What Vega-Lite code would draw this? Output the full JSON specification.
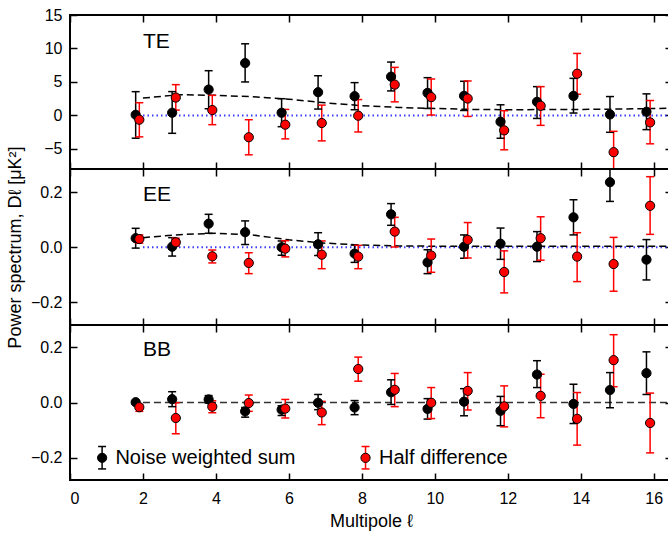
{
  "$schema": "https://vega.github.io/schema/vega-lite/v6.json",
  "padding": {"left": 5, "top": 6, "right": 0, "bottom": 3},
  "spacing": 0,
  "bounds": "flush",
  "config": {
    "font": "Liberation Sans",
    "view": {"stroke": "black", "strokeWidth": 2},
    "axis": {"tickSize": -7, "tickColor": "black", "tickWidth": 1.5, "domain": false, "grid": false, "labelFontSize": 16, "labelColor": "black", "titleFontSize": 18, "titleFontWeight": "normal", "titleColor": "black"}
  },
  "datasets": {
    "te": [
      {"s": "Noise weighted sum", "x": 1.8, "v": 0.1, "lo": -3.4, "hi": 3.55},
      {"s": "Noise weighted sum", "x": 2.8, "v": 0.4, "lo": -2.67, "hi": 3.56},
      {"s": "Noise weighted sum", "x": 3.8, "v": 3.86, "lo": 1.0, "hi": 6.68},
      {"s": "Noise weighted sum", "x": 4.8, "v": 7.82, "lo": 5.0, "hi": 10.7},
      {"s": "Noise weighted sum", "x": 5.8, "v": 0.4, "lo": -1.68, "hi": 2.5},
      {"s": "Noise weighted sum", "x": 6.8, "v": 3.47, "lo": 0.95, "hi": 5.93},
      {"s": "Noise weighted sum", "x": 7.8, "v": 2.87, "lo": 0.85, "hi": 4.9},
      {"s": "Noise weighted sum", "x": 8.8, "v": 5.79, "lo": 3.66, "hi": 7.97},
      {"s": "Noise weighted sum", "x": 9.8, "v": 3.37, "lo": 1.04, "hi": 5.64},
      {"s": "Noise weighted sum", "x": 10.8, "v": 2.92, "lo": 0.74, "hi": 5.1},
      {"s": "Noise weighted sum", "x": 11.8, "v": -0.93, "lo": -3.41, "hi": 1.59},
      {"s": "Noise weighted sum", "x": 12.8, "v": 2.03, "lo": -0.45, "hi": 4.3},
      {"s": "Noise weighted sum", "x": 13.8, "v": 2.92, "lo": 0.36, "hi": 5.54},
      {"s": "Noise weighted sum", "x": 14.8, "v": 0.15, "lo": -2.52, "hi": 2.82},
      {"s": "Noise weighted sum", "x": 15.8, "v": 0.55, "lo": -2.12, "hi": 3.22},
      {"s": "Half difference", "x": 1.9, "v": -0.64, "lo": -3.2, "hi": 1.9},
      {"s": "Half difference", "x": 2.9, "v": 2.67, "lo": 0.8, "hi": 4.6},
      {"s": "Half difference", "x": 3.9, "v": 0.8, "lo": -1.38, "hi": 3.0},
      {"s": "Half difference", "x": 4.9, "v": -3.26, "lo": -5.88, "hi": -0.64},
      {"s": "Half difference", "x": 5.9, "v": -1.38, "lo": -3.5, "hi": 0.9},
      {"s": "Half difference", "x": 6.9, "v": -1.13, "lo": -3.8, "hi": 1.54},
      {"s": "Half difference", "x": 7.9, "v": -0.04, "lo": -2.47, "hi": 2.37},
      {"s": "Half difference", "x": 8.9, "v": 4.6, "lo": 2.03, "hi": 7.18},
      {"s": "Half difference", "x": 9.9, "v": 2.73, "lo": 0.06, "hi": 5.44},
      {"s": "Half difference", "x": 10.9, "v": 2.52, "lo": -0.15, "hi": 5.15},
      {"s": "Half difference", "x": 11.9, "v": -2.23, "lo": -5.13, "hi": 0.7},
      {"s": "Half difference", "x": 12.9, "v": 1.44, "lo": -1.48, "hi": 4.3},
      {"s": "Half difference", "x": 13.9, "v": 6.23, "lo": 3.17, "hi": 9.26},
      {"s": "Half difference", "x": 14.9, "v": -5.49, "lo": -8.6, "hi": -2.37},
      {"s": "Half difference", "x": 15.9, "v": -1.04, "lo": -4.24, "hi": 2.23}
    ],
    "ee": [
      {"s": "Noise weighted sum", "x": 1.8, "v": 0.033, "lo": -0.003, "hi": 0.069},
      {"s": "Noise weighted sum", "x": 2.8, "v": 0.002, "lo": -0.032, "hi": 0.035},
      {"s": "Noise weighted sum", "x": 3.8, "v": 0.086, "lo": 0.051, "hi": 0.12},
      {"s": "Noise weighted sum", "x": 4.8, "v": 0.055, "lo": 0.01, "hi": 0.096},
      {"s": "Noise weighted sum", "x": 5.8, "v": 0.0, "lo": -0.029, "hi": 0.023},
      {"s": "Noise weighted sum", "x": 6.8, "v": 0.011, "lo": -0.03, "hi": 0.053},
      {"s": "Noise weighted sum", "x": 7.8, "v": -0.023, "lo": -0.055, "hi": 0.008},
      {"s": "Noise weighted sum", "x": 8.8, "v": 0.12, "lo": 0.08, "hi": 0.159},
      {"s": "Noise weighted sum", "x": 9.8, "v": -0.055, "lo": -0.096, "hi": -0.009},
      {"s": "Noise weighted sum", "x": 10.8, "v": 0.002, "lo": -0.04, "hi": 0.045},
      {"s": "Noise weighted sum", "x": 11.8, "v": 0.013, "lo": -0.044, "hi": 0.07},
      {"s": "Noise weighted sum", "x": 12.8, "v": 0.002, "lo": -0.052, "hi": 0.057},
      {"s": "Noise weighted sum", "x": 13.8, "v": 0.109, "lo": 0.045, "hi": 0.173},
      {"s": "Noise weighted sum", "x": 14.8, "v": 0.237, "lo": 0.167, "hi": 0.307},
      {"s": "Noise weighted sum", "x": 15.8, "v": -0.045, "lo": -0.119, "hi": 0.028},
      {"s": "Half difference", "x": 1.9, "v": 0.03, "lo": 0.015, "hi": 0.045},
      {"s": "Half difference", "x": 2.9, "v": 0.018, "lo": 0.005, "hi": 0.033},
      {"s": "Half difference", "x": 3.9, "v": -0.033, "lo": -0.057, "hi": -0.01},
      {"s": "Half difference", "x": 4.9, "v": -0.057, "lo": -0.096, "hi": -0.02},
      {"s": "Half difference", "x": 5.9, "v": -0.005, "lo": -0.035, "hi": 0.024},
      {"s": "Half difference", "x": 6.9, "v": -0.027, "lo": -0.078, "hi": 0.023},
      {"s": "Half difference", "x": 7.9, "v": -0.034, "lo": -0.078, "hi": 0.007},
      {"s": "Half difference", "x": 8.9, "v": 0.057, "lo": 0.001, "hi": 0.109},
      {"s": "Half difference", "x": 9.9, "v": -0.03, "lo": -0.091, "hi": 0.03},
      {"s": "Half difference", "x": 10.9, "v": 0.027, "lo": -0.039, "hi": 0.09},
      {"s": "Half difference", "x": 11.9, "v": -0.09, "lo": -0.166, "hi": -0.013},
      {"s": "Half difference", "x": 12.9, "v": 0.033, "lo": -0.047, "hi": 0.111},
      {"s": "Half difference", "x": 13.9, "v": -0.034, "lo": -0.125, "hi": 0.053},
      {"s": "Half difference", "x": 14.9, "v": -0.061, "lo": -0.16, "hi": 0.036},
      {"s": "Half difference", "x": 15.9, "v": 0.151, "lo": 0.047, "hi": 0.257}
    ],
    "bb": [
      {"s": "Noise weighted sum", "x": 1.8, "v": 0.001, "lo": -0.004, "hi": 0.006},
      {"s": "Noise weighted sum", "x": 2.8, "v": 0.012, "lo": -0.015, "hi": 0.039},
      {"s": "Noise weighted sum", "x": 3.8, "v": 0.011, "lo": -0.002, "hi": 0.025},
      {"s": "Noise weighted sum", "x": 4.8, "v": -0.032, "lo": -0.053, "hi": -0.018},
      {"s": "Noise weighted sum", "x": 5.8, "v": -0.026, "lo": -0.047, "hi": -0.012},
      {"s": "Noise weighted sum", "x": 6.8, "v": -0.001, "lo": -0.026, "hi": 0.029},
      {"s": "Noise weighted sum", "x": 7.8, "v": -0.018, "lo": -0.044, "hi": 0.007},
      {"s": "Noise weighted sum", "x": 8.8, "v": 0.037, "lo": -0.007, "hi": 0.082},
      {"s": "Noise weighted sum", "x": 9.8, "v": -0.023, "lo": -0.06, "hi": 0.014},
      {"s": "Noise weighted sum", "x": 10.8, "v": 0.003, "lo": -0.048, "hi": 0.05},
      {"s": "Noise weighted sum", "x": 11.8, "v": -0.03, "lo": -0.084, "hi": 0.022},
      {"s": "Noise weighted sum", "x": 12.8, "v": 0.101, "lo": 0.054, "hi": 0.151},
      {"s": "Noise weighted sum", "x": 13.8, "v": -0.005, "lo": -0.076, "hi": 0.066},
      {"s": "Noise weighted sum", "x": 14.8, "v": 0.045, "lo": -0.019, "hi": 0.108},
      {"s": "Noise weighted sum", "x": 15.8, "v": 0.106, "lo": 0.029, "hi": 0.183},
      {"s": "Half difference", "x": 1.9, "v": -0.017, "lo": -0.032, "hi": -0.007},
      {"s": "Half difference", "x": 2.9, "v": -0.056, "lo": -0.113, "hi": -0.001},
      {"s": "Half difference", "x": 3.9, "v": -0.015, "lo": -0.037, "hi": 0.006},
      {"s": "Half difference", "x": 4.9, "v": -0.002, "lo": -0.032, "hi": 0.027},
      {"s": "Half difference", "x": 5.9, "v": -0.022, "lo": -0.056, "hi": 0.011},
      {"s": "Half difference", "x": 6.9, "v": -0.036, "lo": -0.08, "hi": 0.004},
      {"s": "Half difference", "x": 7.9, "v": 0.121, "lo": 0.077, "hi": 0.164},
      {"s": "Half difference", "x": 8.9, "v": 0.046, "lo": -0.015, "hi": 0.105},
      {"s": "Half difference", "x": 9.9, "v": -0.001, "lo": -0.058, "hi": 0.054},
      {"s": "Half difference", "x": 10.9, "v": 0.042, "lo": -0.027, "hi": 0.108},
      {"s": "Half difference", "x": 11.9, "v": -0.014, "lo": -0.088, "hi": 0.06},
      {"s": "Half difference", "x": 12.9, "v": 0.024, "lo": -0.055, "hi": 0.102},
      {"s": "Half difference", "x": 13.9, "v": -0.059, "lo": -0.154, "hi": 0.036},
      {"s": "Half difference", "x": 14.9, "v": 0.153, "lo": 0.057, "hi": 0.245},
      {"s": "Half difference", "x": 15.9, "v": -0.074, "lo": -0.182, "hi": 0.034}
    ],
    "te_model": [
      {"x": 2, "v": 2.6}, {"x": 3, "v": 3.1}, {"x": 4, "v": 3.0}, {"x": 5, "v": 2.8}, {"x": 6, "v": 2.43},
      {"x": 7, "v": 1.88}, {"x": 8, "v": 1.46}, {"x": 9, "v": 1.19}, {"x": 10, "v": 1.04}, {"x": 11, "v": 0.9},
      {"x": 12, "v": 0.85}, {"x": 13, "v": 0.88}, {"x": 14, "v": 0.9}, {"x": 15, "v": 0.95}, {"x": 16, "v": 1.03}, {"x": 16.5, "v": 1.08}
    ],
    "ee_model": [
      {"x": 2, "v": 0.035}, {"x": 3, "v": 0.046}, {"x": 4, "v": 0.051}, {"x": 5, "v": 0.045}, {"x": 6, "v": 0.027},
      {"x": 7, "v": 0.015}, {"x": 8, "v": 0.008}, {"x": 9, "v": 0.005}, {"x": 10, "v": 0.004}, {"x": 12, "v": 0.004},
      {"x": 14, "v": 0.004}, {"x": 16.5, "v": 0.004}
    ],
    "zero": [{"x": 2, "v": 0}, {"x": 16.5, "v": 0}],
    "leg_a": [{"label": "Noise weighted sum"}],
    "leg_b": [{"label": "Half difference"}]
  },
  "resolve": {"scale": {"color": "independent"}},
  "vconcat": [
    {
      "width": 602, "height": 154,
      "resolve": {"axis": {"x": "independent", "y": "independent"}},
      "layer": [
        {"data": {"name": "zero"}, "mark": {"type": "line", "color": "#3a3aff", "strokeDash": [1.5, 3], "strokeWidth": 2},
         "encoding": {
           "x": {"field": "x", "type": "quantitative", "scale": {"domain": [0, 16.5], "nice": false, "zero": false}, "axis": {"orient": "bottom", "values": [0, 2, 4, 6, 8, 10, 12, 14, 16], "labels": false, "title": null}},
           "y": {"field": "v", "type": "quantitative", "scale": {"domain": [-8, 15], "nice": false, "zero": false}, "axis": {"orient": "left", "values": [-5, 0, 5, 10, 15], "title": null, "labelPadding": 15}}}},
        {"data": {"name": "te_model"}, "mark": {"type": "line", "color": "black", "strokeDash": [7, 4], "strokeWidth": 1.5},
         "encoding": {"x": {"field": "x", "type": "quantitative", "axis": null}, "y": {"field": "v", "type": "quantitative", "axis": null}}},
        {"data": {"name": "te"}, "mark": {"type": "rule", "strokeWidth": 1.5, "clip": true},
         "encoding": {"x": {"field": "x", "type": "quantitative", "axis": null}, "y": {"field": "lo", "type": "quantitative", "axis": null}, "y2": {"field": "hi"},
           "color": {"field": "s", "type": "nominal", "scale": {"domain": ["Noise weighted sum", "Half difference"], "range": ["black", "red"]}, "legend": null}}},
        {"data": {"name": "te"}, "mark": {"type": "tick", "orient": "horizontal", "size": 8, "thickness": 1.5, "clip": true, "opacity": 1},
         "encoding": {"x": {"field": "x", "type": "quantitative", "axis": null}, "y": {"field": "lo", "type": "quantitative", "axis": null},
           "color": {"field": "s", "type": "nominal", "legend": null}}},
        {"data": {"name": "te"}, "mark": {"type": "tick", "orient": "horizontal", "size": 8, "thickness": 1.5, "clip": true, "opacity": 1},
         "encoding": {"x": {"field": "x", "type": "quantitative", "axis": null}, "y": {"field": "hi", "type": "quantitative", "axis": null},
           "color": {"field": "s", "type": "nominal", "legend": null}}},
        {"data": {"name": "te"}, "mark": {"type": "point", "filled": true, "size": 85, "stroke": "black", "strokeWidth": 1, "opacity": 1},
         "encoding": {"x": {"field": "x", "type": "quantitative", "axis": null}, "y": {"field": "v", "type": "quantitative", "axis": null},
           "color": {"field": "s", "type": "nominal", "legend": null}}},
        {"data": {"values": [{"label": "TE"}]}, "mark": {"type": "text", "align": "left", "baseline": "middle", "fontSize": 21, "color": "black"},
         "encoding": {
           "x": {"datum": 2, "type": "quantitative", "axis": {"orient": "top", "values": [0, 2, 4, 6, 8, 10, 12, 14, 16], "labels": false, "title": null}},
           "y": {"datum": 10.9, "type": "quantitative", "axis": {"orient": "right", "values": [-5, 0, 5, 10, 15], "labels": false, "title": null}},
           "text": {"field": "label"}}}
      ]
    },
    {
      "width": 602, "height": 156,
      "resolve": {"axis": {"x": "independent", "y": "independent"}},
      "layer": [
        {"data": {"name": "zero"}, "mark": {"type": "line", "color": "#3a3aff", "strokeDash": [1.5, 3], "strokeWidth": 2},
         "encoding": {
           "x": {"field": "x", "type": "quantitative", "scale": {"domain": [0, 16.5], "nice": false, "zero": false}, "axis": {"orient": "bottom", "values": [0, 2, 4, 6, 8, 10, 12, 14, 16], "labels": false, "title": null}},
           "y": {"field": "v", "type": "quantitative", "scale": {"domain": [-0.283, 0.285], "nice": false, "zero": false}, "axis": {"orient": "left", "values": [-0.2, 0, 0.2], "format": ".1f", "title": "Power spectrum, Dℓ [μK²]", "labelPadding": 15, "titlePadding": 6}}}},
        {"data": {"name": "ee_model"}, "mark": {"type": "line", "color": "black", "strokeDash": [7, 4], "strokeWidth": 1.5},
         "encoding": {"x": {"field": "x", "type": "quantitative", "axis": null}, "y": {"field": "v", "type": "quantitative", "axis": null}}},
        {"data": {"name": "ee"}, "mark": {"type": "rule", "strokeWidth": 1.5, "clip": true},
         "encoding": {"x": {"field": "x", "type": "quantitative", "axis": null}, "y": {"field": "lo", "type": "quantitative", "axis": null}, "y2": {"field": "hi"},
           "color": {"field": "s", "type": "nominal", "scale": {"domain": ["Noise weighted sum", "Half difference"], "range": ["black", "red"]}, "legend": null}}},
        {"data": {"name": "ee"}, "mark": {"type": "tick", "orient": "horizontal", "size": 8, "thickness": 1.5, "clip": true, "opacity": 1},
         "encoding": {"x": {"field": "x", "type": "quantitative", "axis": null}, "y": {"field": "lo", "type": "quantitative", "axis": null},
           "color": {"field": "s", "type": "nominal", "legend": null}}},
        {"data": {"name": "ee"}, "mark": {"type": "tick", "orient": "horizontal", "size": 8, "thickness": 1.5, "clip": true, "opacity": 1},
         "encoding": {"x": {"field": "x", "type": "quantitative", "axis": null}, "y": {"field": "hi", "type": "quantitative", "axis": null},
           "color": {"field": "s", "type": "nominal", "legend": null}}},
        {"data": {"name": "ee"}, "mark": {"type": "point", "filled": true, "size": 85, "stroke": "black", "strokeWidth": 1, "opacity": 1},
         "encoding": {"x": {"field": "x", "type": "quantitative", "axis": null}, "y": {"field": "v", "type": "quantitative", "axis": null},
           "color": {"field": "s", "type": "nominal", "legend": null}}},
        {"data": {"values": [{"label": "EE"}]}, "mark": {"type": "text", "align": "left", "baseline": "middle", "fontSize": 21, "color": "black"},
         "encoding": {
           "x": {"datum": 2, "type": "quantitative", "axis": {"orient": "top", "values": [0, 2, 4, 6, 8, 10, 12, 14, 16], "labels": false, "title": null}},
           "y": {"datum": 0.19, "type": "quantitative", "axis": {"orient": "right", "values": [-0.2, 0, 0.2], "labels": false, "title": null}},
           "text": {"field": "label"}}}
      ]
    },
    {
      "width": 602, "height": 155,
      "resolve": {"axis": {"x": "independent", "y": "independent"}},
      "layer": [
        {"data": {"name": "zero"}, "mark": {"type": "line", "color": "#333333", "strokeDash": [7, 4], "strokeWidth": 1.5},
         "encoding": {
           "x": {"field": "x", "type": "quantitative", "scale": {"domain": [0, 16.5], "nice": false, "zero": false}, "axis": {"orient": "bottom", "values": [0, 2, 4, 6, 8, 10, 12, 14, 16], "title": "Multipole ℓ", "labelPadding": 17, "titlePadding": 6}},
           "y": {"field": "v", "type": "quantitative", "scale": {"domain": [-0.28, 0.28], "nice": false, "zero": false}, "axis": {"orient": "left", "values": [-0.2, 0, 0.2], "format": ".1f", "title": null, "labelPadding": 15}}}},
        {"data": {"name": "bb"}, "mark": {"type": "rule", "strokeWidth": 1.5, "clip": true},
         "encoding": {"x": {"field": "x", "type": "quantitative", "axis": null}, "y": {"field": "lo", "type": "quantitative", "axis": null}, "y2": {"field": "hi"},
           "color": {"field": "s", "type": "nominal", "scale": {"domain": ["Noise weighted sum", "Half difference"], "range": ["black", "red"]}, "legend": null}}},
        {"data": {"name": "bb"}, "mark": {"type": "tick", "orient": "horizontal", "size": 8, "thickness": 1.5, "clip": true, "opacity": 1},
         "encoding": {"x": {"field": "x", "type": "quantitative", "axis": null}, "y": {"field": "lo", "type": "quantitative", "axis": null},
           "color": {"field": "s", "type": "nominal", "legend": null}}},
        {"data": {"name": "bb"}, "mark": {"type": "tick", "orient": "horizontal", "size": 8, "thickness": 1.5, "clip": true, "opacity": 1},
         "encoding": {"x": {"field": "x", "type": "quantitative", "axis": null}, "y": {"field": "hi", "type": "quantitative", "axis": null},
           "color": {"field": "s", "type": "nominal", "legend": null}}},
        {"data": {"name": "bb"}, "mark": {"type": "point", "filled": true, "size": 85, "stroke": "black", "strokeWidth": 1, "opacity": 1},
         "encoding": {"x": {"field": "x", "type": "quantitative", "axis": null}, "y": {"field": "v", "type": "quantitative", "axis": null},
           "color": {"field": "s", "type": "nominal", "legend": null}}},
        {"data": {"name": "leg_a"}, "mark": {"type": "rule", "strokeWidth": 1.5, "color": "black"},
         "encoding": {"x": {"datum": 0.88, "type": "quantitative", "axis": null}, "y": {"datum": -0.159, "type": "quantitative", "axis": null}, "y2": {"datum": -0.240}}},
        {"data": {"name": "leg_a"}, "mark": {"type": "tick", "orient": "horizontal", "size": 8, "thickness": 1.5, "color": "black", "opacity": 1},
         "encoding": {"x": {"datum": 0.88, "type": "quantitative", "axis": null}, "y": {"datum": -0.159, "type": "quantitative", "axis": null}}},
        {"data": {"name": "leg_a"}, "mark": {"type": "tick", "orient": "horizontal", "size": 8, "thickness": 1.5, "color": "black", "opacity": 1},
         "encoding": {"x": {"datum": 0.88, "type": "quantitative", "axis": null}, "y": {"datum": -0.240, "type": "quantitative", "axis": null}}},
        {"data": {"name": "leg_a"}, "mark": {"type": "point", "filled": true, "size": 85, "fill": "black", "stroke": "black", "strokeWidth": 1, "opacity": 1},
         "encoding": {"x": {"datum": 0.88, "type": "quantitative", "axis": null}, "y": {"datum": -0.2, "type": "quantitative", "axis": null}}},
        {"data": {"name": "leg_a"}, "mark": {"type": "text", "align": "left", "baseline": "middle", "fontSize": 20, "color": "black"},
         "encoding": {"x": {"datum": 1.245, "type": "quantitative", "axis": null}, "y": {"datum": -0.2, "type": "quantitative", "axis": null}, "text": {"field": "label"}}},
        {"data": {"name": "leg_b"}, "mark": {"type": "rule", "strokeWidth": 1.5, "color": "red"},
         "encoding": {"x": {"datum": 8.1, "type": "quantitative", "axis": null}, "y": {"datum": -0.159, "type": "quantitative", "axis": null}, "y2": {"datum": -0.240}}},
        {"data": {"name": "leg_b"}, "mark": {"type": "tick", "orient": "horizontal", "size": 8, "thickness": 1.5, "color": "red", "opacity": 1},
         "encoding": {"x": {"datum": 8.1, "type": "quantitative", "axis": null}, "y": {"datum": -0.159, "type": "quantitative", "axis": null}}},
        {"data": {"name": "leg_b"}, "mark": {"type": "tick", "orient": "horizontal", "size": 8, "thickness": 1.5, "color": "red", "opacity": 1},
         "encoding": {"x": {"datum": 8.1, "type": "quantitative", "axis": null}, "y": {"datum": -0.240, "type": "quantitative", "axis": null}}},
        {"data": {"name": "leg_b"}, "mark": {"type": "point", "filled": true, "size": 85, "fill": "red", "stroke": "black", "strokeWidth": 1, "opacity": 1},
         "encoding": {"x": {"datum": 8.1, "type": "quantitative", "axis": null}, "y": {"datum": -0.2, "type": "quantitative", "axis": null}}},
        {"data": {"name": "leg_b"}, "mark": {"type": "text", "align": "left", "baseline": "middle", "fontSize": 20, "color": "black"},
         "encoding": {"x": {"datum": 8.47, "type": "quantitative", "axis": null}, "y": {"datum": -0.2, "type": "quantitative", "axis": null}, "text": {"field": "label"}}},
        {"data": {"values": [{"label": "BB"}]}, "mark": {"type": "text", "align": "left", "baseline": "middle", "fontSize": 21, "color": "black"},
         "encoding": {
           "x": {"datum": 2, "type": "quantitative", "axis": {"orient": "top", "values": [0, 2, 4, 6, 8, 10, 12, 14, 16], "labels": false, "title": null}},
           "y": {"datum": 0.19, "type": "quantitative", "axis": {"orient": "right", "values": [-0.2, 0, 0.2], "labels": false, "title": null}},
           "text": {"field": "label"}}}
      ]
    }
  ]
}
